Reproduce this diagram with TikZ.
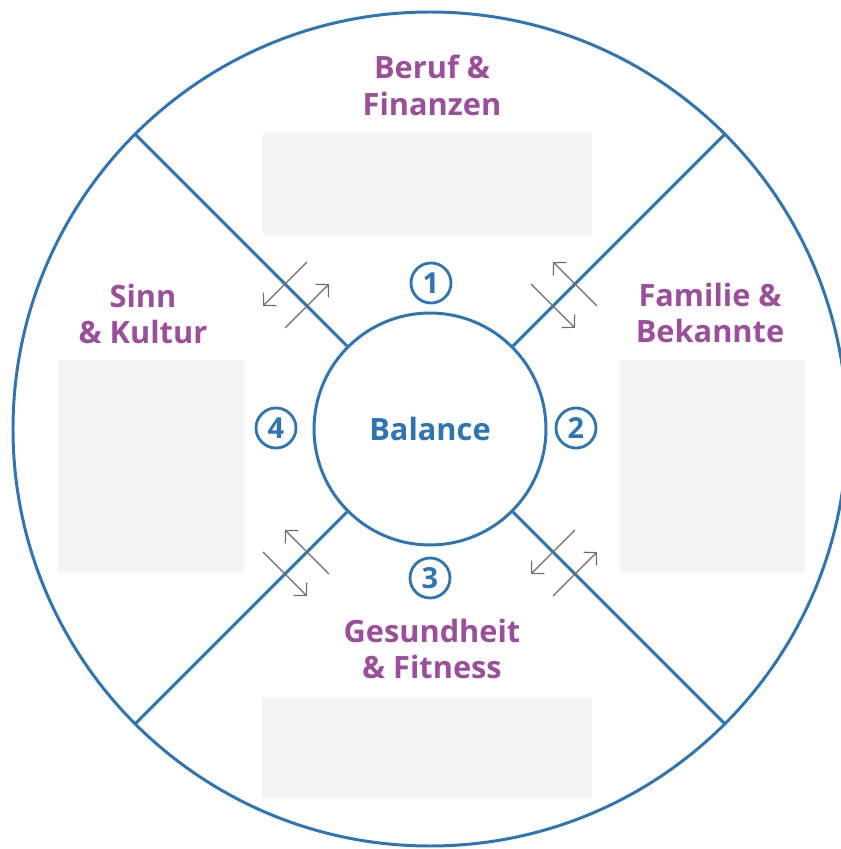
\documentclass[tikz,border=0pt]{standalone}
\usepackage{fontspec}
\setmainfont{Open Sans}
\usepackage{tikz}
\usetikzlibrary{arrows.meta}
\definecolor{ringblue}{HTML}{2E75B2}
\definecolor{areapurple}{HTML}{9B4F9B}
\definecolor{boxgray}{HTML}{F4F4F4}
\definecolor{arrowgray}{HTML}{6E6E6E}

\begin{document}
\begin{tikzpicture}[x=0.02cm,y=0.02cm,
    ring/.style={draw=ringblue,line width=1.7pt},
    area/.style={text=areapurple,align=center,font=\bfseries\fontsize{17.5}{21}\selectfont},
    box/.style={fill=boxgray},
    num/.style={circle,draw=ringblue,line width=1.6pt,minimum size=0.8cm,inner sep=0pt,
        text=ringblue,font=\bfseries\fontsize{16.5}{16.5}\selectfont},
    xarrow/.style={draw=arrowgray,line width=0.7pt,-{Straight Barb[length=5pt,width=10.5pt]}}]
    \useasboundingbox (-430,-420) rectangle (411,429);

    % grey fields
    \fill[box] (-168,194) rectangle (162,296);
    \fill[box] (-372,-144) rectangle (-186,69);
    \fill[box] (190,-144) rectangle (375,69);
    \fill[box] (-168,-369) rectangle (162,-268);

    % rings and spokes
    \draw[ring] (0,0) circle[radius=417];
    \node [circle,ring,minimum size=4.64cm,text=ringblue,
        font=\bfseries\fontsize{17.5}{21}\selectfont] (Bal) at (0,0) {Balance};
    \foreach \a in {45,135,225,315} {
        \coordinate (o\a) at (\a:417);
        \draw[ring] (Bal.\a) -- (o\a);
        \draw[xarrow] (\a:205) ++(\a-90:31) -- ++(\a+90:62);
        \draw[xarrow] (\a:174) ++(\a+90:31) -- ++(\a-90:62);
    }

    % areas
    \node [area] (Ber) at (2,344) {Beruf \&\\Finanzen};
    \node [area] (Fam) at (280,116) {Familie \&\\Bekannte};
    \node [area] (Ges) at (2,-220) {Gesundheit\\\& Fitness};
    \node [area] (Sinn) at (-287,115) {Sinn\\\& Kultur};

    % numbers
    \node [num] (N1) at (1,146) {1};
    \node [num] (N2) at (146,1) {2};
    \node [num] (N3) at (0,-149) {3};
    \node [num] (N4) at (-154,1) {4};
\end{tikzpicture}
\end{document}
